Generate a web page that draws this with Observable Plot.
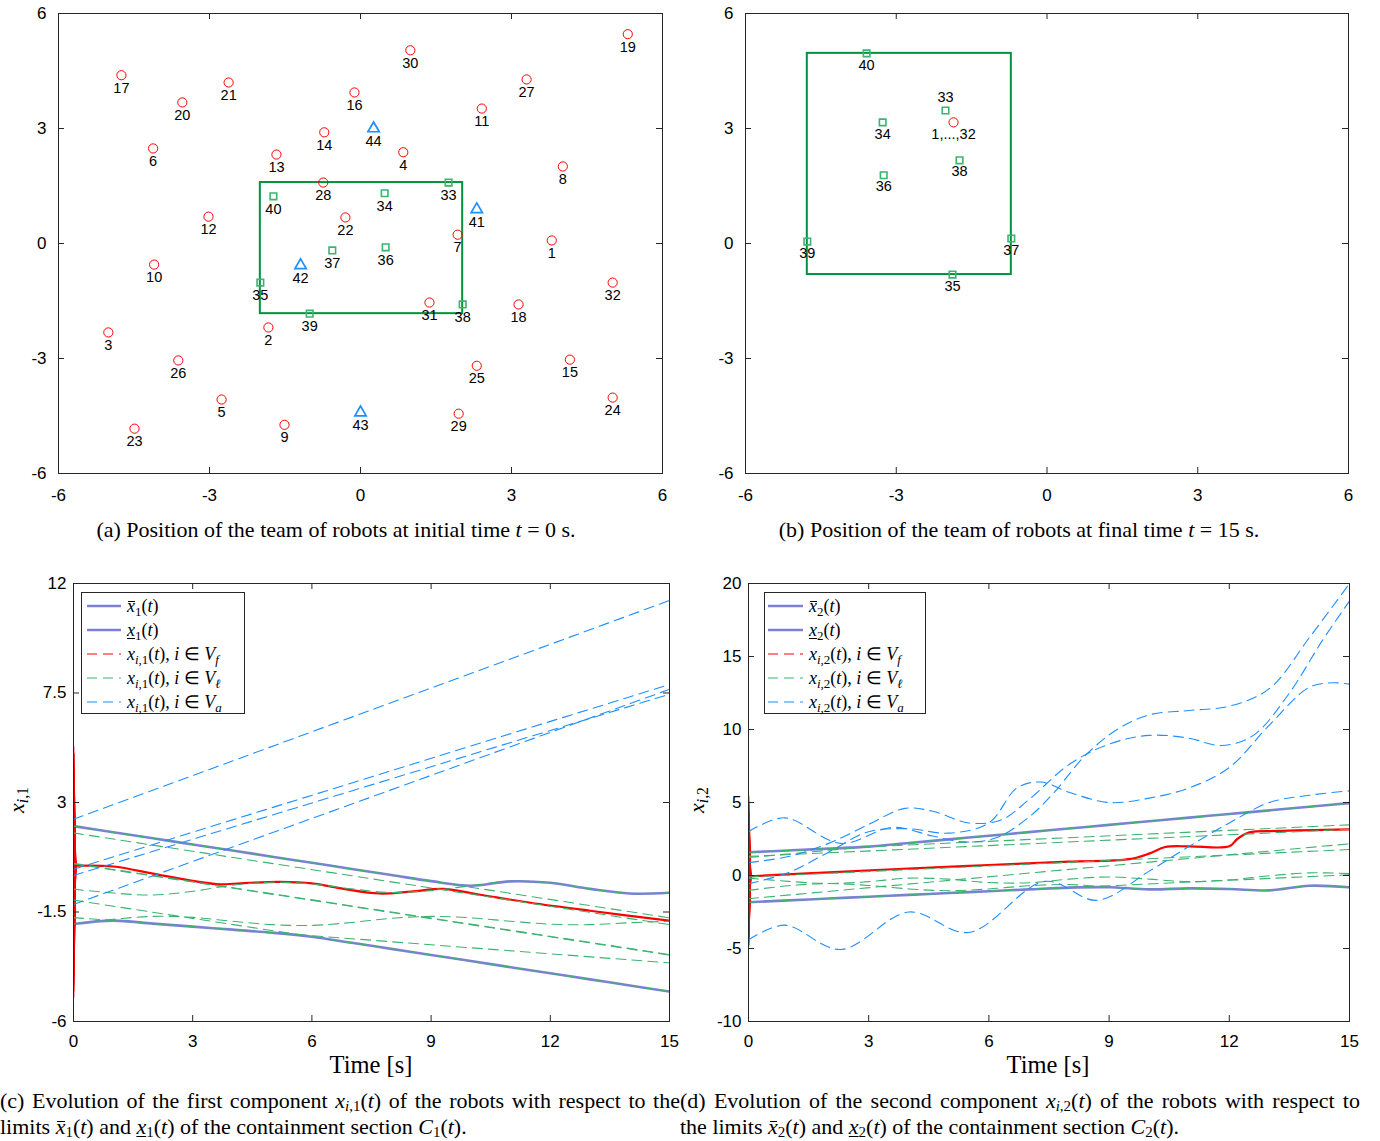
<!DOCTYPE html>
<html><head><meta charset="utf-8">
<script src="https://cdn.jsdelivr.net/npm/d3@7"></script>
<script src="https://cdn.jsdelivr.net/npm/@observablehq/plot@0.6"></script>
<style>
html,body{margin:0;padding:0;background:#fff;}
body{width:1380px;height:1141px;position:relative;overflow:hidden;font-family:"Liberation Sans",Arial,sans-serif;}
.abs{position:absolute;}
.ctr{position:absolute;transform:translate(-50%,-50%);white-space:nowrap;}
.serif{font-family:"Liberation Serif","Times New Roman",serif;color:#000;}
.serif sub{font-size:0.72em;vertical-align:-0.28em;line-height:0;}
.cap sub{font-size:0.68em;vertical-align:-0.18em;}
.ov{position:relative;display:inline-block;font-style:italic;line-height:1;}
.ov::after{content:"";position:absolute;left:0.08em;right:0.02em;top:0.22em;border-top:1px solid #000;}
.un{font-style:italic;text-decoration:underline;text-decoration-thickness:1px;text-underline-offset:2px;}
.cap{position:absolute;font-size:22px;line-height:22px;white-space:nowrap;}
.just{text-align:justify;text-align-last:justify;white-space:normal;}
.legend{position:absolute;border:1px solid #262626;background:#fff;box-sizing:border-box;}
.lrow{position:absolute;left:0;height:24px;font-size:18px;line-height:24px;white-space:nowrap;}
</style></head><body>
<div id="pa" class="abs" style="left:0;top:0"></div>
<div id="pb" class="abs" style="left:687px;top:0"></div>
<div id="pc" class="abs" style="left:0;top:570px"></div>
<div id="pd" class="abs" style="left:690px;top:570px"></div>
<div id="overlay"></div>
<script>
// ---------------- DATA ----------------
// followers 1..32 : initial positions (panel a)
const followerLabels = ["1","2","3","4","5","6","7","8","9","10","11","12","13","14","15","16","17","18","19","20","21","22","23","24","25","26","27","28","29","30","31","32"];
const followerX0 = [3.80,-1.83,-5.01,0.85,-2.76,-4.12,1.93,4.02,-1.51,-4.10,2.41,-3.02,-1.67,-0.72,4.16,-0.12,-4.75,3.14,5.31,-3.54,-2.62,-0.30,-4.49,5.01,2.31,-3.62,3.30,-0.74,1.95,0.99,1.37,5.01];
const followerY0 = [0.08,-2.19,-2.32,2.38,-4.07,2.48,0.23,2.01,-4.73,-0.55,3.52,0.70,2.32,2.90,-3.03,3.94,4.39,-1.59,5.46,3.68,4.20,0.68,-4.83,-4.02,-3.19,-3.05,4.28,1.59,-4.44,5.04,-1.54,-1.02];
// followers final (all converge, panel b)
const followerEndX = [-1.86];
const followerEndY = [3.16];
const followerEndLabel = ["1,...,32"];
// leaders 33..40
const leaderLabels = ["33","34","35","36","37","38","39","40"];
const leaderX0 = [1.75,0.48,-1.99,0.50,-0.56,2.03,-1.01,-1.73];
const leaderY0 = [1.59,1.31,-1.02,-0.10,-0.18,-1.59,-1.83,1.23];
const leaderX15 = [-2.02,-3.27,-1.88,-3.25,-0.71,-1.74,-4.77,-3.59];
const leaderY15 = [3.47,3.16,-0.81,1.78,0.13,2.17,0.05,4.96];
// agents 41..44
const agentLabels = ["41","42","43","44"];
const agentX0 = [2.31,-1.19,0.00,0.26];
const agentY0 = [0.89,-0.57,-4.41,3.00];
const agentX15 = [11.3,7.65,7.45,7.85];

// wavy leader trajectories on a 1 s grid
const tGrid = [0,1,2,3,4,5,6,7,8,9,10,11,12,13,14,15];
const leader35X1 = [-1.99,-1.80,-1.68,-1.72,-1.88,-2.02,-2.05,-1.93,-1.76,-1.68,-1.74,-1.88,-2.00,-2.02,-1.94,-1.88];
const leader37X1 = [-0.56,-0.72,-0.80,-0.65,-0.40,-0.28,-0.35,-0.55,-0.70,-0.62,-0.42,-0.24,-0.30,-0.55,-0.74,-0.71];
const leader35X2 = [-1.02,-0.70,-0.55,-0.68,-0.92,-1.04,-0.92,-0.70,-0.62,-0.80,-0.95,-0.88,-0.92,-1.02,-0.70,-0.81];
const leader37X2 = [-0.18,-0.40,-0.55,-0.42,-0.18,-0.25,-0.48,-0.50,-0.25,-0.10,-0.25,-0.42,-0.30,-0.02,0.18,0.13];

// followers common trajectory (after fast convergence)
const folT1 = [0.05,1,2,3,3.7,4.4,5.2,6,6.8,7.7,8.5,9.3,10.2,11.5,13,15];
const folV1 = [0.40,0.37,0.08,-0.22,-0.36,-0.30,-0.26,-0.32,-0.55,-0.74,-0.66,-0.55,-0.78,-1.12,-1.45,-1.86];
const folT2 = [0.05,2,4,6,8,9.5,10.0,10.4,11,12,12.2,12.5,13.2,15];
const folV2 = [-0.05,0.22,0.48,0.72,0.95,1.12,1.5,1.95,2.0,2.0,2.5,2.95,3.05,3.16];

// agents second component
const agent41T = [0,1,2,3,3.9,4.6,5.5,6.3,7,8,9,10,11,11.8,12.6,13.5,14.3,15];
const agent41V = [0.89,1.3,2.2,3.5,4.6,4.4,3.6,3.8,5.2,7.6,9.0,9.6,9.4,8.9,9.6,12.5,16.0,18.8];
const agent42T = [0,1,2,3,4,5,6,6.7,7.3,8,9,10,11,12,13,14,14.6,15];
const agent42V = [-0.57,0.2,1.6,3.0,3.2,2.9,3.6,6.0,6.4,5.7,5.0,5.3,6.0,7.4,10.3,12.9,13.2,13.1];
const agent43T = [0,0.9,2.3,4,5.5,7.4,8.7,10,11,12,13,14,15];
const agent43V = [-4.41,-3.4,-5.07,-2.5,-3.9,-0.4,-1.7,0.3,2.0,3.6,5.0,5.5,5.8];
const agent44T = [0,0.9,2.3,3.6,4.6,5.4,6.2,7,7.6,8.4,9.2,10,11,12,13,14,15];
const agent44V = [3.0,3.95,2.2,3.3,2.7,2.3,2.6,4.0,5.6,8.2,10.0,11.0,11.3,11.6,12.8,16.3,20.0];

const posTicks = [-6,-3,0,3,6];
const timeTicks = [0,3,6,9,12,15];
const x1Ticks = [-6,-1.5,3,7.5,12];
const x2Ticks = [-10,-5,0,5,10,15,20];

// ---------------- STYLE ----------------
const AXC = "#262626";
const RED = "#ff0000", GREEN = "#3cb371", RECTG = "#00923f", BLUE = "#1e8fff", PURPLE = "#7f7fd8";
const DASH = "10,6";
const FONT = '"Liberation Sans", Arial, Helvetica, sans-serif';

function boxAxes(xTicks, yTicks, fw, fh, xPad, yPad) {
  const tl = 6, fmt = d => String(d);
  return [
    Plot.tickY(yTicks, {y: d => d, insetRight: fw - tl, stroke: AXC}),
    Plot.tickY(yTicks, {y: d => d, insetLeft: fw - tl, stroke: AXC}),
    Plot.tickX(xTicks, {x: d => d, insetTop: fh - tl, stroke: AXC}),
    Plot.tickX(xTicks, {x: d => d, insetBottom: fh - tl, stroke: AXC}),
    Plot.axisX({ticks: xTicks, tickSize: 0, tickPadding: xPad, tickFormat: fmt, fontSize: 17, label: null}),
    Plot.axisY({ticks: yTicks, tickSize: 0, tickPadding: yPad, tickFormat: fmt, fontSize: 17, label: null}),
    Plot.frame({stroke: AXC})
  ];
}

function rows(xs, ys, labels, kind) { return xs.map((x, i) => ({x, y: ys[i], label: labels[i], kind})); }

function scatterPanel(el, cfg) {
  const width = 690, height = 510, mt = 13, mb = 37;
  const fw = width - cfg.ml - cfg.mr, fh = height - mt - mb;
  const fol = rows(cfg.fx, cfg.fy, cfg.fl, "f");
  const lead = rows(cfg.lx, cfg.ly, leaderLabels, "l");
  const agt = cfg.ax ? rows(cfg.ax, cfg.ay, agentLabels, "a") : [];
  const box = [{x1: d3.min(cfg.lx), x2: d3.max(cfg.lx), y1: d3.min(cfg.ly), y2: d3.max(cfg.ly)}];
  const all = [...fol, ...lead, ...agt];
  const p = Plot.plot({
    width, height, marginLeft: cfg.ml, marginRight: cfg.mr, marginTop: mt, marginBottom: mb,
    x: {domain: [-6, 6]}, y: {domain: [-6, 6]},
    style: {fontFamily: FONT, background: "transparent", color: "#000", overflow: "visible"},
    marks: [
      Plot.rect(box, {x1: "x1", x2: "x2", y1: "y1", y2: "y2", fill: "none", stroke: RECTG, strokeWidth: 2}),
      Plot.dot(fol, {x: "x", y: "y", r: 4.6, stroke: RED, strokeWidth: 1, fill: "none"}),
      Plot.dot(lead, {x: "x", y: "y", symbol: "square", r: 3.7, stroke: GREEN, strokeWidth: 1.6, fill: "none"}),
      Plot.dot(agt, {x: "x", y: "y", symbol: "triangle", r: 4.2, stroke: BLUE, strokeWidth: 1.7, fill: "none"}),
      Plot.text(all.filter(d => !cfg.above.includes(d.label)), {x: "x", y: "y", text: "label", dy: cfg.dy, fontSize: 14.5, fill: "#000"}),
      Plot.text(all.filter(d => cfg.above.includes(d.label)), {x: "x", y: "y", text: "label", dy: -13, fontSize: 14.5, fill: "#000"}),
      ...boxAxes(posTicks, posTicks, fw, fh, 15, 12)
    ]
  });
  el.appendChild(p);
}

scatterPanel(document.getElementById("pa"), {ml: 58, mr: 28, fx: followerX0, fy: followerY0, fl: followerLabels,
  lx: leaderX0, ly: leaderY0, ax: agentX0, ay: agentY0, dy: 13, above: []});
scatterPanel(document.getElementById("pb"), {ml: 58, mr: 29, fx: followerEndX, fy: followerEndY, fl: followerEndLabel,
  lx: leaderX15, ly: leaderY15, ax: null, ay: null, dy: 11.5, above: ["33"]});

// ---------- time series ----------
function leaderValue(comp, i, k) {
  const id = leaderLabels[i];
  const waves = comp === 1 ? {"35": leader35X1, "37": leader37X1} : {"35": leader35X2, "37": leader37X2};
  const a = comp === 1 ? leaderX0 : leaderY0, b = comp === 1 ? leaderX15 : leaderY15;
  if (waves[id]) return waves[id][k];
  return a[i] + (b[i] - a[i]) * tGrid[k] / 15;
}
function leaderSeries(comp) {
  const out = [];
  const waves = comp === 1 ? {"35": leader35X1, "37": leader37X1} : {"35": leader35X2, "37": leader37X2};
  const a = comp === 1 ? leaderX0 : leaderY0, b = comp === 1 ? leaderX15 : leaderY15;
  leaderLabels.forEach((id, i) => {
    if (waves[id]) tGrid.forEach((t, k) => out.push({id, t, v: waves[id][k]}));
    else { out.push({id, t: 0, v: a[i]}); out.push({id, t: 15, v: b[i]}); }
  });
  return out;
}
function limits(comp) {
  return tGrid.map((t, k) => ({
    t,
    hi: d3.max(leaderLabels, (id, i) => leaderValue(comp, i, k)),
    lo: d3.min(leaderLabels, (id, i) => leaderValue(comp, i, k))
  }));
}
function followerSpikes(comp) {
  const s = comp === 1 ? followerX0 : followerY0;
  const t = comp === 1 ? folT1 : folT2, v = comp === 1 ? folV1 : folV2;
  const out = [];
  s.forEach((y0, i) => { out.push({id: i, t: 0, v: y0}); out.push({id: i, t: t[0], v: v[0]}); });
  return out;
}
function followerCommon(comp) {
  const t = comp === 1 ? folT1 : folT2, v = comp === 1 ? folV1 : folV2;
  return t.map((tt, k) => ({t: tt, v: v[k]}));
}
function agentSeries(comp) {
  const out = [];
  if (comp === 1) {
    agentLabels.forEach((id, i) => { out.push({id, t: 0, v: agentX0[i]}); out.push({id, t: 15, v: agentX15[i]}); });
  } else {
    const T = [agent41T, agent42T, agent43T, agent44T], V = [agent41V, agent42V, agent43V, agent44V];
    agentLabels.forEach((id, i) => T[i].forEach((t, k) => out.push({id, t, v: V[i][k]})));
  }
  return out;
}

function linePanel(el, comp, cfg) {
  const width = 690, height = 510, mt = 13, mb = 59;
  const fw = width - cfg.ml - cfg.mr, fh = height - mt - mb;
  const lim = limits(comp);
  const p = Plot.plot({
    width, height, marginLeft: cfg.ml, marginRight: cfg.mr, marginTop: mt, marginBottom: mb,
    x: {domain: [0, 15]}, y: {domain: cfg.yDomain},
    style: {fontFamily: FONT, background: "transparent", color: "#000", overflow: "visible"},
    marks: [
      Plot.line(lim, {x: "t", y: "hi", stroke: PURPLE, strokeWidth: 2.6, curve: "catmull-rom", clip: true}),
      Plot.line(lim, {x: "t", y: "lo", stroke: PURPLE, strokeWidth: 2.6, curve: "catmull-rom", clip: true}),
      Plot.line(followerSpikes(comp), {x: "t", y: "v", z: "id", stroke: RED, strokeWidth: 1.6, clip: true}),
      Plot.line(followerCommon(comp), {x: "t", y: "v", stroke: RED, strokeWidth: 2.2, curve: "catmull-rom", clip: true}),
      Plot.line(leaderSeries(comp), {x: "t", y: "v", z: "id", stroke: GREEN, strokeWidth: 1.1, strokeDasharray: DASH, curve: "catmull-rom", clip: true}),
      Plot.line(agentSeries(comp), {x: "t", y: "v", z: "id", stroke: BLUE, strokeWidth: 1.1, strokeDasharray: DASH, curve: "catmull-rom", clip: true}),
      ...boxAxes(timeTicks, cfg.yTicks, fw, fh, 13, 7)
    ]
  });
  el.appendChild(p);
}
linePanel(document.getElementById("pc"), 1, {ml: 73, mr: 21, yDomain: [-6, 12], yTicks: x1Ticks});
linePanel(document.getElementById("pd"), 2, {ml: 58, mr: 31, yDomain: [-10, 20], yTicks: x2Ticks});

// ---------- text overlays ----------
const ov = document.getElementById("overlay");
function add(html) { ov.insertAdjacentHTML("beforeend", html); }
const xbar = n => `<span class="ov">x</span><sub>${n}</sub>(<i>t</i>)`;
const xund = n => `<span class="un">x</span><sub>${n}</sub>(<i>t</i>)`;
const xi = n => `<i>x</i><sub><i>i</i>,${n}</sub>(<i>t</i>)`;

function legend(comp, left, top, width, s0, s1, tx) {
  const items = [
    {c: PURPLE, w: 2.6, d: null, h: xbar(comp)},
    {c: PURPLE, w: 2.6, d: null, h: xund(comp)},
    {c: RED, w: 1.1, d: DASH, h: `${xi(comp)}, <i>i</i> ∈ <i>V</i><sub><i>f</i></sub>`},
    {c: GREEN, w: 1.1, d: DASH, h: `${xi(comp)}, <i>i</i> ∈ <i>V</i><sub><i>ℓ</i></sub>`},
    {c: BLUE, w: 1.1, d: DASH, h: `${xi(comp)}, <i>i</i> ∈ <i>V</i><sub><i>a</i></sub>`}
  ];
  let html = `<div class="legend serif" style="left:${left}px;top:${top}px;width:${width}px;height:122px">`;
  items.forEach((it, k) => {
    const y = 1 + k * 24;
    html += `<svg style="position:absolute;left:0;top:${y}px" width="${s1 + 2}" height="24"><line x1="${s0}" x2="${s1}" y1="12" y2="12" stroke="${it.c}" stroke-width="${it.w}" ${it.d ? `stroke-dasharray="${it.d}"` : ""}/></svg>`;
    html += `<div class="lrow" style="left:${tx}px;top:${y}px">${it.h}</div>`;
  });
  html += `</div>`;
  add(html);
}
legend(1, 81, 592, 164, 5, 39, 45);
legend(2, 764, 592, 162, 3, 38, 44);

add(`<div class="ctr serif" style="left:371px;top:1065px;font-size:24.5px">Time [s]</div>`);
add(`<div class="ctr serif" style="left:1048px;top:1065px;font-size:24.5px">Time [s]</div>`);
add(`<div class="ctr serif" style="left:17px;top:800px;font-size:22px;transform:translate(-50%,-50%) rotate(-90deg)"><i>x</i><sub><i>i</i>,1</sub></div>`);
add(`<div class="ctr serif" style="left:697px;top:800px;font-size:22px;transform:translate(-50%,-50%) rotate(-90deg)"><i>x</i><sub><i>i</i>,2</sub></div>`);

add(`<div class="cap serif" style="left:0;top:519px;width:672px;text-align:center">(a) Position of the team of robots at initial time <i>t</i> = 0 s.</div>`);
add(`<div class="cap serif" style="left:687px;top:519px;width:664px;text-align:center">(b) Position of the team of robots at final time <i>t</i> = 15 s.</div>`);
add(`<div class="cap serif just" style="left:0;top:1090px;width:680px">(c) Evolution of the first component ${xi(1)} of the robots with respect to the</div>`);
add(`<div class="cap serif" style="left:0;top:1116px">limits ${xbar(1)} and ${xund(1)} of the containment section <i>C</i><sub>1</sub>(<i>t</i>).</div>`);
add(`<div class="cap serif just" style="left:680px;top:1090px;width:680px">(d) Evolution of the second component ${xi(2)} of the robots with respect to</div>`);
add(`<div class="cap serif" style="left:680px;top:1116px">the limits ${xbar(2)} and ${xund(2)} of the containment section <i>C</i><sub>2</sub>(<i>t</i>).</div>`);
</script>
</body></html>
